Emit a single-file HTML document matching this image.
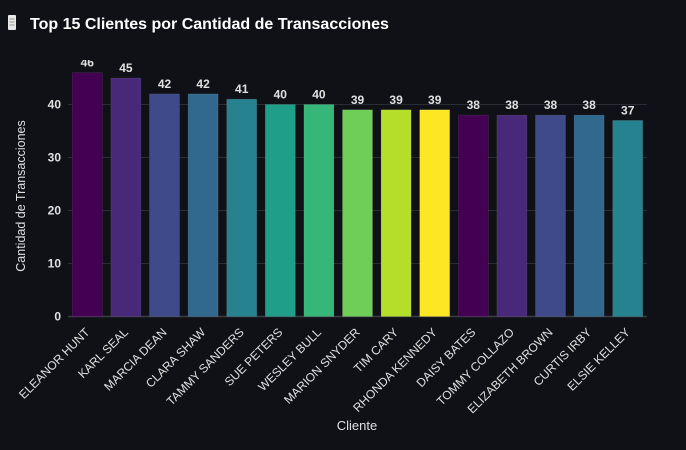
<!DOCTYPE html>
<html><head><meta charset="utf-8"><style>
html,body{margin:0;padding:0;background:#0f1117;width:686px;height:450px;overflow:hidden}
svg{display:block;font-family:"Liberation Sans",sans-serif}
</style></head><body>
<svg id="chart" width="686" height="450">
<rect width="686" height="450" fill="#0f1117"/>
<g>
<rect x="8" y="15" width="8" height="15" fill="#e8e8e8" rx="1"/>
<line x1="9.5" y1="19" x2="14.5" y2="19" stroke="#999" stroke-width="1"/>
<line x1="9.5" y1="22" x2="14.5" y2="22" stroke="#999" stroke-width="1"/>
<line x1="9.5" y1="25" x2="14.5" y2="25" stroke="#999" stroke-width="1"/>
</g>
<text x="30" y="29" fill="#ffffff" font-size="16" font-weight="bold">Top 15 Clientes por Cantidad de Transacciones</text>
<defs><clipPath id="pc"><rect x="68" y="60" width="580" height="260"/></clipPath></defs>
<g id="grid"></g>
<g id="bars" clip-path="url(#pc)"></g>
<g id="yticks"></g>
<g id="xticks"></g>
<text x="25" y="196" fill="#e0e0e0" font-size="12.5" text-anchor="middle" transform="rotate(-90 25 196)">Cantidad de Transacciones</text>
<text x="357" y="430" fill="#e0e0e0" font-size="13" text-anchor="middle">Cliente</text>
</svg>
<script>
const categories=["ELEANOR HUNT","KARL SEAL","MARCIA DEAN","CLARA SHAW","TAMMY SANDERS","SUE PETERS","WESLEY BULL","MARION SNYDER","TIM CARY","RHONDA KENNEDY","DAISY BATES","TOMMY COLLAZO","ELIZABETH BROWN","CURTIS IRBY","ELSIE KELLEY"];
const values=[46,45,42,42,41,40,40,39,39,39,38,38,38,38,37];
const yTicks=[0,10,20,30,40];
const palette=["#440154","#482878","#3e4a89","#31688e","#26828e","#1f9e89","#35b779","#6ece58","#b5de2b","#fde725"];
const NS="http://www.w3.org/2000/svg";
const x0=68,x1=647,y0=316.5,pxPerUnit=5.3;
function yScale(v){return y0-v*pxPerUnit;}
const step=(x1-x0)/categories.length;
function xCenter(i){return x0+step*(i+0.5);}
function mk(t,a,p){const e=document.createElementNS(NS,t);for(const k in a)e.setAttribute(k,a[k]);p.appendChild(e);return e;}
const grid=document.getElementById('grid'),bars=document.getElementById('bars'),yt=document.getElementById('yticks'),xt=document.getElementById('xticks');
yTicks.forEach(v=>{
 const y=yScale(v);
 const l=mk('line',{x1:x0,x2:x1,y1:y,y2:y,stroke:v===0?'#3a3d46':'#2a2d36','stroke-width':v===0?1.5:1},grid);
 
 
 const t=mk('text',{x:61,y:y+4,fill:'#e0e0e0','font-size':12,'font-weight':'bold','text-anchor':'end'},yt);
 t.textContent=v;
 
 
});
const bw=30;
categories.forEach((c,i)=>{
 const cx=xCenter(i),v=values[i];
 const r=mk('rect',{x:cx-bw/2,y:yScale(v),width:bw,height:y0-yScale(v),fill:palette[i%palette.length],stroke:'rgba(255,255,255,0.12)','stroke-width':0.6},bars);
 
 
 const vl=mk('text',{x:cx,y:yScale(v)-6,fill:'#e0e0e0','font-size':12,'font-weight':'bold','text-anchor':'middle'},bars);
 vl.textContent=v;
 
 
 const lx=cx+3,ly=333;
 const t=mk('text',{x:lx,y:ly,fill:'#e0e0e0','font-size':12,'text-anchor':'end',transform:`rotate(-45 ${lx} ${ly})`},xt);
 t.textContent=c;
 
 
});
</script>
</body></html>
